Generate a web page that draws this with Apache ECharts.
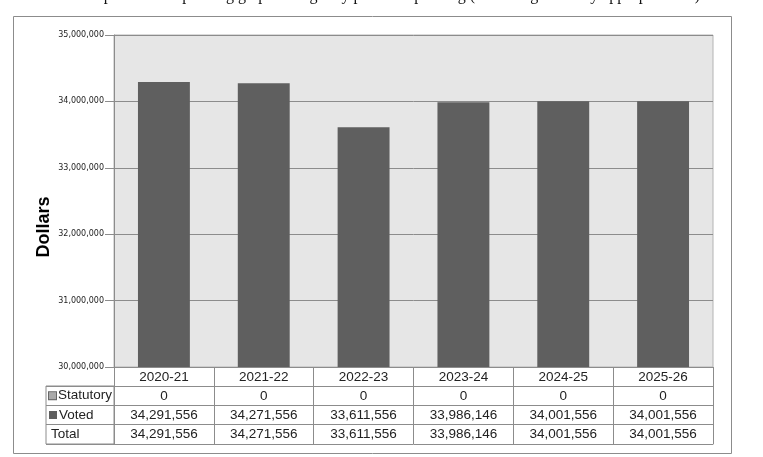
<!DOCTYPE html>
<html>
<head>
<meta charset="utf-8">
<title>Departmental spending</title>
<script src="https://cdn.jsdelivr.net/npm/echarts@6/dist/echarts.min.js"></script>
<style>
  html, body { margin: 0; padding: 0; background: #fff; }
  #chart { width: 763px; height: 457px; }
</style>
</head>
<body>
<div id="chart"></div>
<script>
'use strict';

const years = ['2020-21', '2021-22', '2022-23', '2023-24', '2024-25', '2025-26'];
const statutory = [0, 0, 0, 0, 0, 0];
const voted = [34291556, 34271556, 33611556, 33986146, 34001556, 34001556];
const total = voted.map((v, i) => v + statutory[i]);
const rowLabels = ['Statutory', 'Voted', 'Total'];

const lineGrey = '#8c8c8c';
const tableFont = {fontFamily: '"Liberation Sans", Arial, sans-serif', fontSize: 13.5, color: '#222'};

function fmt(n) {
  return n.toLocaleString('en-US');
}

// one extra x axis per table row, ticks draw the cell dividers
function tableRow(offset, values, tickLen) {
  return {
    type: 'category',
    gridIndex: 0,
    data: years,
    position: 'bottom',
    offset: offset,
    axisLine: {show: true, lineStyle: {color: lineGrey}},
    axisTick: {show: tickLen > 0, length: tickLen, alignWithLabel: false, lineStyle: {color: lineGrey}},
    axisLabel: {
      show: !!values,
      interval: 0,
      margin: 3,
      formatter: (v, i) => values ? fmt(values[i]) : '',
      ...tableFont
    },
    splitLine: {show: false}
  };
}

const chart = echarts.init(document.getElementById('chart'));

const option = {
  animation: false,
  title: {
    text: 'Departmental spending graph: Budgetary planned spending (excluding statutory appropriations)',
    right: 58,
    top: -17,
    textStyle: {fontFamily: '"Liberation Serif", "Times New Roman", serif', fontSize: 16, fontWeight: 'normal', color: '#111'}
  },
  graphic: [{
    type: 'rect',
    shape: {x: 13.5, y: 16.5, width: 718, height: 437},
    style: {fill: 'none', stroke: lineGrey, lineWidth: 1},
    silent: true
  }],
  grid: [
    {left: 114, right: 50, top: 35, bottom: 90, show: true, backgroundColor: '#e6e6e6', borderColor: '#b4b4b4', borderWidth: 1},
    // row-label column of the data table
    {left: 46, top: 386, width: 68, height: 58, show: true, backgroundColor: '#fff', borderColor: lineGrey, borderWidth: 1}
  ],
  xAxis: [
    {
      type: 'category',
      gridIndex: 0,
      data: years,
      position: 'bottom',
      axisLine: {show: true, lineStyle: {color: lineGrey}},
      axisTick: {show: true, length: 19, alignWithLabel: false, lineStyle: {color: lineGrey}},
      axisLabel: {interval: 0, margin: 3, ...tableFont},
      splitLine: {show: false}
    },
    tableRow(19, statutory, 19),
    tableRow(38, voted, 19),
    tableRow(57, total, 20),
    tableRow(77, null, 0),
    {type: 'value', gridIndex: 1, show: false}
  ],
  yAxis: [
    {
      type: 'value',
      gridIndex: 0,
      min: 30000000,
      max: 35000000,
      interval: 1000000,
      name: 'Dollars',
      nameLocation: 'middle',
      nameGap: 61,
      nameMoveOverlap: false,
      nameTextStyle: {fontFamily: '"Liberation Sans", Arial, sans-serif', fontSize: 18, fontWeight: 'bold', color: '#000', padding: [0, 52, 0, 0]},
      axisLine: {show: true, lineStyle: {color: lineGrey}},
      axisTick: {show: true, length: 9, lineStyle: {color: lineGrey}},
      axisLabel: {
        margin: 10,
        fontFamily: '"DejaVu Sans", Verdana, sans-serif',
        fontSize: 8,
        color: '#222',
        formatter: (v) => fmt(v)
      },
      splitLine: {show: true, lineStyle: {color: lineGrey, width: 1}}
    },
    {
      type: 'category',
      gridIndex: 1,
      data: rowLabels,
      inverse: true,
      axisLine: {show: false},
      axisTick: {show: false},
      splitLine: {show: true, lineStyle: {color: lineGrey}},
      axisLabel: {
        inside: true,
        interval: 0,
        margin: 3,
        ...tableFont,
        formatter: (v) => {
          if (v === 'Statutory') return '{statKey|}{t|' + v + '}';
          if (v === 'Voted') return '{votedKey|}{t|' + v + '}';
          return '{t|' + v + '}';
        },
        rich: {
          statKey: {width: 7, height: 7, backgroundColor: '#a9a9a9', borderColor: '#666', borderWidth: 1},
          votedKey: {width: 8, height: 8, backgroundColor: '#5f5f5f'},
          t: {...tableFont, padding: [0, 0, 0, 2]}
        }
      }
    }
  ],
  series: [
    {
      name: 'Statutory',
      type: 'bar',
      stack: 'spending',
      xAxisIndex: 0,
      yAxisIndex: 0,
      barWidth: '52%',
      itemStyle: {color: '#a9a9a9'},
      data: statutory
    },
    {
      name: 'Voted',
      type: 'bar',
      stack: 'spending',
      xAxisIndex: 0,
      yAxisIndex: 0,
      barWidth: '52%',
      itemStyle: {color: '#5f5f5f'},
      data: voted
    }
  ]
};

chart.setOption(option);
</script>
</body>
</html>
